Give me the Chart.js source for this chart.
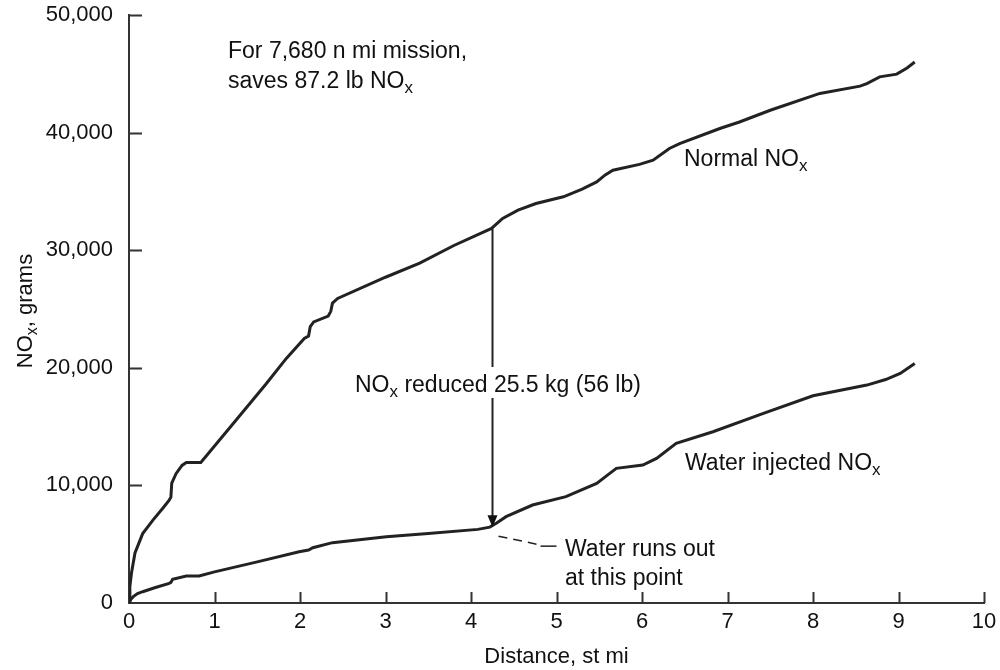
<!DOCTYPE html>
<html>
<head>
<meta charset="utf-8">
<script src="https://cdn.jsdelivr.net/npm/chart.js@4/dist/chart.umd.min.js"></script>
<style>
  html, body { margin: 0; padding: 0; background: #fff; }
  #wrap { width: 1000px; height: 670px; }
</style>
</head>
<body>
<div id="wrap"><canvas id="noxChart" width="1000" height="670"></canvas></div>
<script>
// ===================== Data =====================
const xTickValues = [0, 1, 2, 3, 4, 5, 6, 7, 8, 9, 10];
const yTickValues = [0, 10000, 20000, 30000, 40000, 50000];
const yTickLabels = ['0', '10,000', '20,000', '30,000', '40,000', '50,000'];

const normalX = [0, 0.01, 0.03, 0.07, 0.16, 0.28, 0.40, 0.47, 0.49, 0.50, 0.55, 0.62, 0.67, 0.84,
  1.20, 1.60, 1.84, 2.05, 2.10, 2.12, 2.16, 2.33, 2.36, 2.38, 2.44, 3.00, 3.40, 3.80, 4.24,
  4.37, 4.55, 4.76, 5.08, 5.30, 5.47, 5.57, 5.66, 5.97, 6.13, 6.32, 6.44, 6.91, 7.14, 7.50,
  8.08, 8.55, 8.63, 8.78, 8.98, 9.10, 9.19];
const normalY = [0, 1400, 2600, 4250, 5900, 7050, 8100, 8750, 9000, 10200, 11000, 11700, 11950, 11950,
  15100, 18600, 20800, 22500, 22700, 23500, 23900, 24400, 24800, 25500, 25900, 27700, 28900, 30400, 31850,
  32700, 33400, 33970, 34540, 35200, 35810, 36400, 36800, 37300, 37650, 38650, 39070, 40350, 40900, 41900,
  43330, 43950, 44170, 44740, 44970, 45500, 46000];

const waterX = [0, 0.02, 0.05, 0.10, 0.16, 0.30, 0.47, 0.49, 0.51, 0.67, 0.82, 1.00, 1.50, 1.99,
  2.10, 2.15, 2.38, 3.01, 3.50, 4.08, 4.22, 4.30, 4.41, 4.72, 5.11, 5.47, 5.60, 5.70, 6.01,
  6.17, 6.40, 6.83, 7.42, 8.00, 8.63, 8.85, 9.02, 9.19];
const waterY = [0, 300, 540, 800, 960, 1300, 1670, 1750, 2020, 2300, 2300, 2650, 3500, 4360,
  4500, 4700, 5130, 5640, 5900, 6260, 6450, 6800, 7340, 8330, 9040, 10170, 10900, 11450, 11730,
  12300, 13570, 14560, 16120, 17620, 18530, 19000, 19520, 20370];

// where the water runs out (arrow)
const runOutX = 4.24;
const runOutNormal = 31850;
const runOutWater = 6450;

// ===================== Style =====================
const FONT = '"Liberation Sans", Arial, sans-serif';
const INK = '#222';
const AXIS = '#333';

function toPoints(xs, ys) {
    return xs.map((x, i) => ({ x: x, y: ys[i] }));
}

// draw text with "x" style subscripts: parts = [[text, isSub], ...]
function drawRich(ctx, parts, x, y, size, align) {
    const subSize = Math.round(size * 0.74);
    let total = 0;
    parts.forEach(([t, sub]) => {
        ctx.font = `${sub ? subSize : size}px ${FONT}`;
        total += ctx.measureText(t).width;
    });
    let cx = align === 'center' ? x - total / 2 : x;
    ctx.textAlign = 'left';
    ctx.textBaseline = 'alphabetic';
    parts.forEach(([t, sub]) => {
        ctx.font = `${sub ? subSize : size}px ${FONT}`;
        ctx.fillText(t, cx, sub ? y + 5 : y);
        cx += ctx.measureText(t).width;
    });
}

// ===================== Plugins =====================
const innerTicks = {
    id: 'innerTicks',
    afterDraw(chart) {
        const { ctx, chartArea, scales: { x, y } } = chart;
        ctx.save();
        ctx.strokeStyle = AXIS;
        ctx.lineWidth = 2;
        ctx.beginPath();
        xTickValues.slice(1).forEach(v => {
            const px = Math.round(x.getPixelForValue(v)) + 0.5;
            ctx.moveTo(px, chartArea.bottom);
            ctx.lineTo(px, chartArea.bottom - 11);
        });
        yTickValues.slice(1).forEach(v => {
            const py = Math.round(y.getPixelForValue(v)) + 0.5;
            ctx.moveTo(chartArea.left, py);
            ctx.lineTo(chartArea.left + 13, py);
        });
        ctx.stroke();
        ctx.restore();
    }
};

const annotations = {
    id: 'annotations',
    afterDraw(chart) {
        const { ctx, scales: { x, y } } = chart;
        ctx.save();
        ctx.fillStyle = '#111';
        ctx.strokeStyle = INK;

        // y axis title
        ctx.save();
        ctx.translate(32, 311);
        ctx.rotate(-Math.PI / 2);
        drawRich(ctx, [['NO', false], ['x', true], [', grams', false]], 0, 0, 22, 'center');
        ctx.restore();

        drawRich(ctx, [['For 7,680 n mi mission,', false]], 228, 58, 23, 'left');
        drawRich(ctx, [['saves 87.2 lb NO', false], ['x', true]], 228, 88, 23, 'left');
        drawRich(ctx, [['Normal NO', false], ['x', true]], 684, 166, 23, 'left');
        drawRich(ctx, [['Water injected NO', false], ['x', true]], 685, 470, 23, 'left');

        // reduction arrow
        const ax = Math.round(x.getPixelForValue(runOutX)) + 0.5;
        const yTop = y.getPixelForValue(runOutNormal);
        const yTip = y.getPixelForValue(runOutWater);
        const textBase = 392;
        ctx.lineWidth = 2;
        ctx.beginPath();
        ctx.moveTo(ax, yTop);
        ctx.lineTo(ax, textBase - 25);
        ctx.moveTo(ax, textBase + 6);
        ctx.lineTo(ax, yTip - 9);
        ctx.stroke();
        ctx.beginPath();
        ctx.moveTo(ax, yTip);
        ctx.lineTo(ax - 5, yTip - 12);
        ctx.lineTo(ax + 5, yTip - 12);
        ctx.closePath();
        ctx.fill();
        drawRich(ctx, [['NO', false], ['x', true], [' reduced 25.5 kg (56 lb)', false]], 355, textBase, 23, 'left');

        // leader to "water runs out"
        ctx.lineWidth = 1.5;
        ctx.setLineDash([9, 6]);
        ctx.beginPath();
        ctx.moveTo(ax + 6, yTip + 9);
        ctx.lineTo(ax + 44, yTip + 17);
        ctx.stroke();
        ctx.setLineDash([]);
        ctx.beginPath();
        ctx.moveTo(ax + 48, yTip + 19);
        ctx.lineTo(ax + 64, yTip + 19);
        ctx.stroke();
        drawRich(ctx, [['Water runs out', false]], 565, 556, 23, 'left');
        drawRich(ctx, [['at this point', false]], 565, 585, 23, 'left');

        ctx.restore();
    }
};

// ===================== Chart =====================
function setupChart() {
    const ctx = document.getElementById('noxChart').getContext('2d');
    new Chart(ctx, {
        type: 'scatter',
        data: {
            datasets: [
                {
                    label: 'Normal NOx',
                    data: toPoints(normalX, normalY),
                    showLine: true,
                    borderColor: INK,
                    borderWidth: 3,
                    pointRadius: 0,
                    tension: 0
                },
                {
                    label: 'Water injected NOx',
                    data: toPoints(waterX, waterY),
                    showLine: true,
                    borderColor: INK,
                    borderWidth: 3,
                    pointRadius: 0,
                    tension: 0
                }
            ]
        },
        options: {
            responsive: false,
            animation: false,
            events: [],
            layout: { padding: { top: 15, right: 16, left: 0, bottom: 0 } },
            plugins: {
                legend: { display: false },
                tooltip: { enabled: false }
            },
            scales: {
                x: {
                    type: 'linear',
                    min: 0,
                    max: 10,
                    afterBuildTicks: scale => { scale.ticks = xTickValues.map(v => ({ value: v })); },
                    afterFit: scale => {
                        scale.height = 67;
                        scale.paddingLeft = 0;
                        scale.paddingRight = 0;
                    },
                    grid: { drawOnChartArea: false, drawTicks: false },
                    border: { display: true, color: AXIS, width: 2 },
                    ticks: {
                        color: '#111',
                        padding: 6,
                        maxRotation: 0,
                        font: { family: FONT, size: 22 },
                        callback: v => String(v)
                    },
                    title: {
                        display: true,
                        text: 'Distance, st mi',
                        color: '#111',
                        padding: { top: 0, bottom: 0 },
                        font: { family: FONT, size: 22 }
                    }
                },
                y: {
                    type: 'linear',
                    min: 0,
                    max: 50000,
                    afterBuildTicks: scale => { scale.ticks = yTickValues.map(v => ({ value: v })); },
                    afterFit: scale => {
                        scale.width = 129;
                        scale.paddingTop = 0;
                        scale.paddingBottom = 0;
                    },
                    grid: { drawOnChartArea: false, drawTicks: false },
                    border: { display: true, color: AXIS, width: 2 },
                    ticks: {
                        color: '#111',
                        padding: 16,
                        font: { family: FONT, size: 22 },
                        callback: (v, i) => yTickLabels[i]
                    }
                }
            }
        },
        plugins: [innerTicks, annotations]
    });
}

document.addEventListener('DOMContentLoaded', setupChart);
</script>
</body>
</html>
